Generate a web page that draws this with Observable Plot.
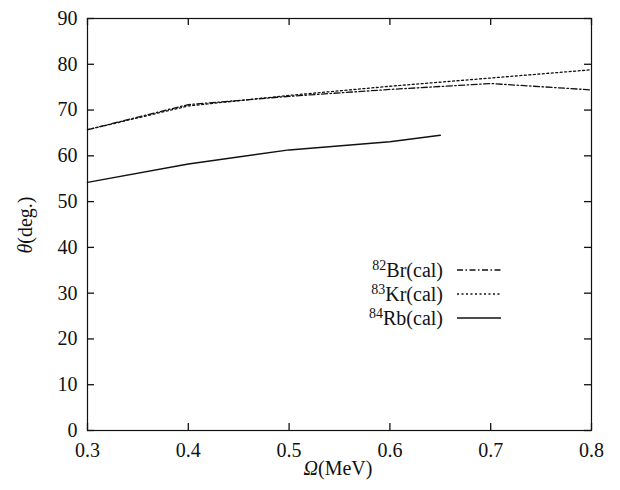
<!DOCTYPE html>
<html><head><meta charset="utf-8">
<script src="https://cdn.jsdelivr.net/npm/d3@7"></script>
<script src="https://cdn.jsdelivr.net/npm/@observablehq/plot@0.6"></script>
<style>body{margin:0;background:#fff} svg text{font-family:'Liberation Serif',serif}</style>
</head><body><div id="chart"></div>
<script>
// Omega (MeV) sample points and theta (deg.) values per nucleus
const omega = [0.3, 0.4, 0.5, 0.6, 0.7, 0.8];
const br82 = [65.7, 71.2, 73.0, 74.5, 75.8, 74.4];
const kr83 = [65.7, 70.9, 73.2, 75.2, 77.0, 78.8];
const omegaRb = [0.3, 0.4, 0.5, 0.6, 0.65];
const rb84 = [54.2, 58.2, 61.3, 63.1, 64.5];
const xTickValues = [0.3, 0.4, 0.5, 0.6, 0.7, 0.8];
const yTickValues = [0, 10, 20, 30, 40, 50, 60, 70, 80, 90];
const legendMass = ["82", "83", "84"];
const legendElem = ["Br", "Kr", "Rb"];
const dashPatterns = ["6,2.5,1.5,2.5", "2,2.5", "none"];

const rows = (xs, ys) => xs.map((x, i) => ({x, y: ys[i]}));
const W = 620, H = 490, mL = 87, mR = 29, mT = 18, mB = 60;
const innerW = W - mL - mR, innerH = H - mT - mB, tl = 7;
const serif = "Liberation Serif";

const plot = Plot.plot({
  width: W, height: H,
  marginLeft: mL, marginRight: mR, marginTop: mT, marginBottom: mB,
  style: {fontFamily: serif, fontSize: "20px", color: "#111", background: "#fff"},
  x: {domain: [0.3, 0.8]},
  y: {domain: [0, 90]},
  marks: [
    Plot.axisX(xTickValues, {anchor: "bottom", tickSize: 0, tickPadding: 12, tickFormat: d3.format(".1f"), label: null, fontSize: 20, fontFamily: serif}),
    Plot.axisY(yTickValues, {anchor: "left", tickSize: 0, tickPadding: 10, label: null, fontSize: 20, fontFamily: serif}),
    Plot.tickX(xTickValues, {x: d => d, insetTop: innerH - tl, stroke: "#111", strokeWidth: 1.3}),
    Plot.tickX(xTickValues, {x: d => d, insetBottom: innerH - tl, stroke: "#111", strokeWidth: 1.3}),
    Plot.tickY(yTickValues, {y: d => d, insetRight: innerW - tl, stroke: "#111", strokeWidth: 1.3}),
    Plot.tickY(yTickValues, {y: d => d, insetLeft: innerW - tl, stroke: "#111", strokeWidth: 1.3}),
    Plot.frame({stroke: "#111", strokeWidth: 1.2}),
    Plot.line(rows(omega, br82), {x: "x", y: "y", stroke: "#111", strokeWidth: 1.3, strokeDasharray: dashPatterns[0]}),
    Plot.line(rows(omega, kr83), {x: "x", y: "y", stroke: "#111", strokeWidth: 1.3, strokeDasharray: dashPatterns[1]}),
    Plot.line(rows(omegaRb, rb84), {x: "x", y: "y", stroke: "#111", strokeWidth: 1.5})
  ]
});
document.getElementById("chart").appendChild(plot);

const svg = d3.select(plot);
function richText(x, y, anchor, parts, transform) {
  const t = svg.append("text").attr("text-anchor", anchor).attr("fill", "#111")
    .attr("font-family", serif).attr("font-size", 20);
  if (transform) t.attr("transform", transform); else t.attr("x", x).attr("y", y);
  parts.forEach(p => {
    const s = t.append("tspan").text(p.t);
    if (p.i) s.attr("font-style", "italic");
    if (p.sup) s.attr("font-size", 14).attr("dy", -7);
    if (p.dy) s.attr("dy", p.dy);
  });
}
richText(0, 0, "middle", [{t: "θ", i: true}, {t: "(deg.)"}], "translate(32,225) rotate(-90)");
richText(338, 475, "middle", [{t: "Ω", i: true}, {t: "(MeV)"}]);

legendMass.forEach((m, i) => {
  const yy = 277 + i * 24;
  richText(443, yy, "end", [{t: m, sup: true}, {t: legendElem[i] + "(cal)", dy: 7}]);
  svg.append("line").attr("x1", 457).attr("x2", 501).attr("y1", yy - 7).attr("y2", yy - 7)
    .attr("stroke", "#111").attr("stroke-width", i === 2 ? 1.5 : 1.3)
    .attr("stroke-dasharray", dashPatterns[i]);
});
</script></body></html>
